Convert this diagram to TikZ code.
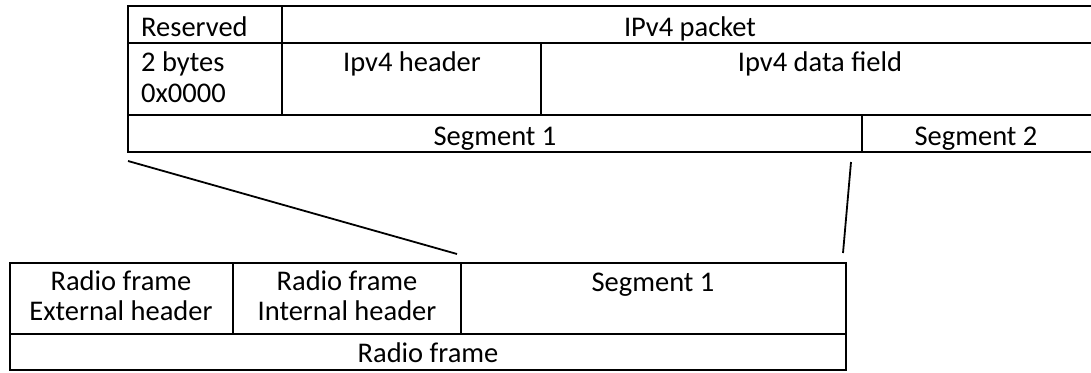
\documentclass[tikz,border=0pt]{standalone}
\usepackage{fontspec}
\setmainfont{Carlito}
\usetikzlibrary{fit}
\begin{document}
\begin{tikzpicture}[x=1pt, y=-1pt,
  cell/.style={draw, line width=2pt, inner sep=0pt},
  lbl/.style={inner sep=0pt, anchor=base, font=\fontsize{28.5}{31}\selectfont},
  link/.style={line width=1.8pt}]
\useasboundingbox (0,0) rectangle (1091,372);
\clip (0,0) rectangle (1091,372);

% IPv4 packet layout (runs past the right edge)
\node[cell, fit={(128,6) (282,43)}]    (res)    {};
\node[cell, fit={(282,6) (1098,43)}]   (pkt)    {};
\node[cell, fit={(128,43) (282,115)}]  (resval) {};
\node[cell, fit={(282,43) (541,115)}]  (hdr)    {};
\node[cell, fit={(541,43) (1098,115)}] (data)   {};
\node[cell, fit={(128,115) (862,152)}] (segA)   {};
\node[cell, fit={(862,115) (1098,152)}](segB)   {};

\node[lbl, anchor=base west] at (141,36)  {Reserved};
\node[lbl] at (690,36)  {IPv4 packet};
\node[lbl, anchor=base west] at (141,71)  {2 bytes};
\node[lbl, anchor=base west] at (141,102) {0x0000};
\node[lbl] at (412,71)  {Ipv4 header};
\node[lbl] at (820,71)  {Ipv4 data field};
\node[lbl] at (495,145) {Segment 1};
\node[lbl] at (976,145) {Segment 2};

% Radio frame layout
\node[cell, fit={(10,263) (233,334)}]  (ext)   {};
\node[cell, fit={(233,263) (461,334)}] (int)   {};
\node[cell, fit={(461,263) (846,334)}] (seg)   {};
\node[cell, fit={(10,334) (846,370)}]  (frame) {};

\node[lbl] at (121,290) {Radio frame};
\node[lbl] at (121,320) {External header};
\node[lbl] at (347,290) {Radio frame};
\node[lbl] at (347,320) {Internal header};
\node[lbl] at (653,291) {Segment 1};
\node[lbl] at (428,362) {Radio frame};

% Segment 1 mapped into the radio frame
\coordinate (s1l) at ([xshift=1pt, yshift=-8pt]segA.south west);
\coordinate (s1r) at ([xshift=-10pt, yshift=-9pt]segB.south west);
\coordinate (r1l) at ([xshift=-3pt, yshift=8pt]seg.north west);
\coordinate (r1r) at ([xshift=-4pt, yshift=9pt]seg.north east);
\draw[link] (s1l) -- (r1l);
\draw[link] (s1r) -- (r1r);
\end{tikzpicture}
\end{document}
